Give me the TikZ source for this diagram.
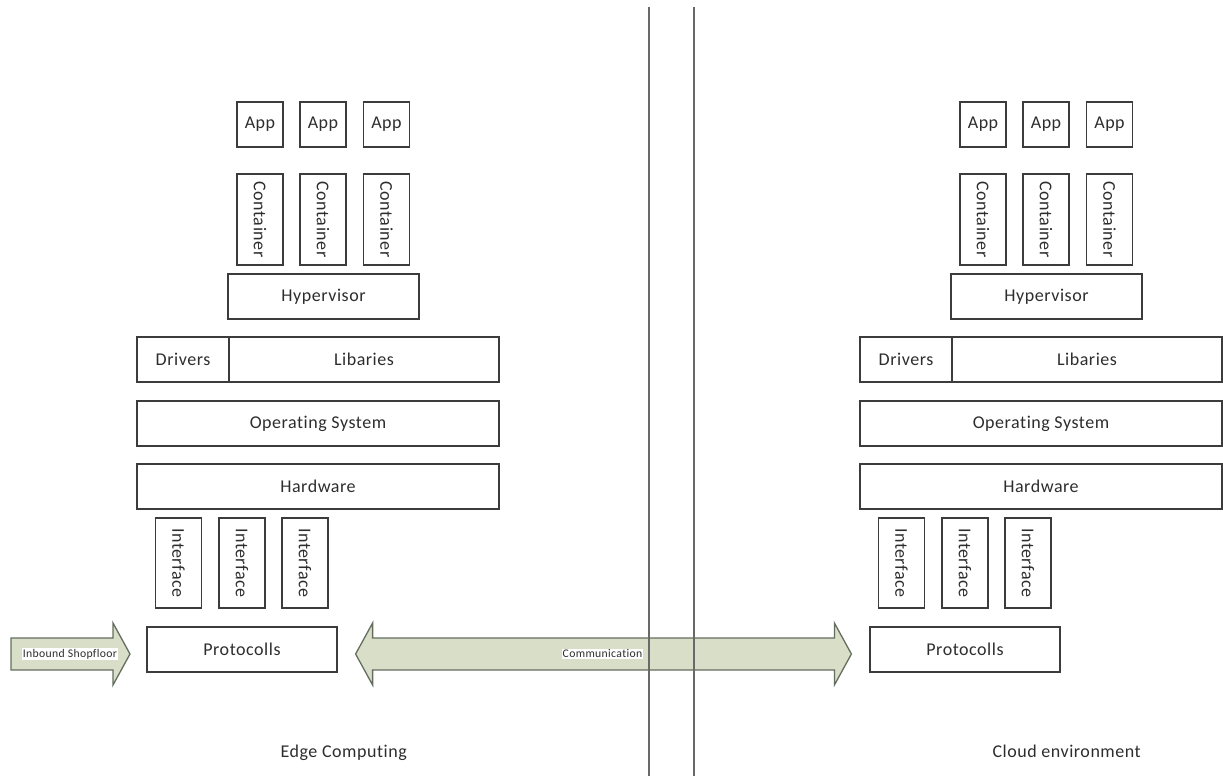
\documentclass[tikz,border=0pt]{standalone}
\usepackage{fontspec}
\setmainfont{Carlito}[Ligatures=NoCommon,LetterSpace=3]
\usetikzlibrary{calc}
\definecolor{arrowfill}{RGB}{216,222,200}
\definecolor{arrowline}{RGB}{100,110,95}
\definecolor{boxline}{RGB}{60,60,60}
\definecolor{sepline}{RGB}{105,105,105}
\definecolor{ink}{RGB}{45,45,45}

\begin{document}
\begin{tikzpicture}[x=1pt,y=-1pt,
  layer/.style={draw=boxline,line width=1.2pt,inner sep=0pt,minimum height=45pt,
    text=ink,font=\fontsize{18}{20}\selectfont},
  tall/.style={layer,minimum height=46pt,rotate=-90},
  block/.style={fill=arrowfill,draw=arrowline,line width=1.3pt,line join=miter},
  lbl/.style={fill=white,inner sep=1pt,text=ink,font=\fontsize{11.7}{14}\selectfont},
  caption/.style={anchor=base west,text=ink,font=\fontsize{18}{20}\selectfont},
  sep/.style={draw=sepline,line width=2pt}]
\useasboundingbox (0,0) rectangle (1223,776);

% the two stacks, edge on the left and cloud on the right
\foreach \s/\dx in {L/0,R/723}{
  \foreach \i/\cx in {1/260,2/323,3/386.5}{
    \node[layer,minimum width=46pt] (app\s\i) at ({\dx+\cx},124.5) {App};
    \node[tall,minimum width=91pt] (cont\s\i) at ({\dx+\cx},219.5) {Container};
  }
  \node[layer,minimum width=191pt] (hyp\s) at ({\dx+323.5},296.5) {Hypervisor};
  \node[layer,minimum width=92pt] (drv\s) at ({\dx+183},359.5) {Drivers};
  \node[layer,minimum width=270pt] (lib\s) at ({\dx+364},359.5) {Libaries};
  \node[layer,minimum width=362pt] (os\s) at ({\dx+318},423.5) {Operating System};
  \node[layer,minimum width=362pt] (hw\s) at ({\dx+318},486.5) {Hardware};
  \foreach \i/\cx in {1/178.5,2/242,3/305}{
    \node[tall,minimum width=90pt] (if\s\i) at ({\dx+\cx},563) {Interface};
  }
  \node[layer,minimum width=190pt] (proto\s) at ({\dx+242},649.5) {Protocolls};
}

% block arrows
\draw[block] (11,638) -- (113,638) -- (113,623) -- (130,654) -- (113,685)
  -- (113,670) -- (11,670) -- cycle;
\node[lbl] (inbound) at (70,654) {Inbound Shopfloor};

\coordinate (comA) at ($(protoL.east)+(18,4.5)$);
\coordinate (comB) at ($(protoR.west)+(-18,4.5)$);
\draw[block] (comA) -- ++(17,-31) -- ++(0,15) -- ($(comB)+(-17,-16)$)
  -- ++(0,-15) -- (comB) -- ++(-17,31) -- ++(0,-15) -- ($(comA)+(17,16)$)
  -- ++(0,15) -- cycle;
\node[lbl] (comm) at ($(comA)!0.5!(comB)+(-1,0)$) {Communication};

% separator
\draw[sep] (649,7) -- (649,776);
\draw[sep] (694,7) -- (694,776);

\node[caption] (edge) at (277,757) {Edge Computing};
\node[caption] (cloud) at (989,757) {Cloud environment};
\end{tikzpicture}
\end{document}
